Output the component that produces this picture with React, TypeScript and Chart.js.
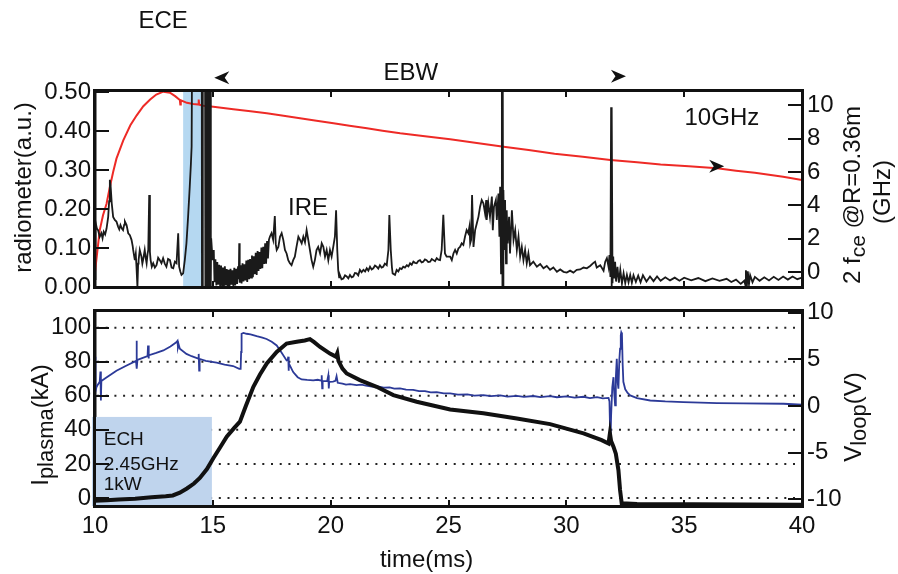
import React, { useEffect, useRef } from "react";
import { Chart, registerables } from "chart.js";

Chart.register(...registerables);

const FONT = "'Liberation Sans', Arial, Helvetica, sans-serif";
const INK = "#111111";

const TIME_TICKS = [10, 15, 20, 25, 30, 35, 40];
const RADIOMETER_TICKS = [0, 0.1, 0.2, 0.3, 0.4, 0.5];
const FCE_TICKS = [0, 2, 4, 6, 8, 10];
const IPLASMA_TICKS = [0, 20, 40, 60, 80, 100];
const VLOOP_TICKS = [-10, -5, 0, 5, 10];

const T_RANGE = [10, 40];
const RAD_RANGE = [0, 0.503];
const FCE_RANGE = [-0.9, 10.86];
const IP_RANGE = [-4.7, 109.8];
const VL_RANGE = [-10.72, 10.2];

const radiometer: [number, number][] = [
  [10.0, 0.02], [10.01, 0.16], [10.03, 0.167], [10.08, 0.15], [10.13, 0.146], [10.2, 0.129], [10.27, 0.138],
  [10.32, 0.125], [10.37, 0.142], [10.43, 0.135], [10.49, 0.15], [10.56, 0.18], [10.6, 0.22], [10.63, 0.275],
  [10.66, 0.262], [10.71, 0.215], [10.77, 0.18], [10.84, 0.172], [10.91, 0.168], [10.98, 0.155], [11.03, 0.148],
  [11.08, 0.159], [11.14, 0.15], [11.19, 0.146], [11.24, 0.16], [11.27, 0.168], [11.34, 0.159], [11.41, 0.138],
  [11.48, 0.133], [11.55, 0.121], [11.6, 0.105], [11.62, 0.095], [11.66, 0.08], [11.69, 0.069], [11.73, 0.085],
  [11.76, 0.052], [11.8, 0.0], [11.83, 0.06], [11.85, 0.069], [11.9, 0.095], [11.97, 0.078], [12.01, 0.06],
  [12.04, 0.069], [12.11, 0.095], [12.15, 0.075], [12.19, 0.061], [12.23, 0.085], [12.26, 0.095], [12.3, 0.236],
  [12.33, 0.09], [12.36, 0.069], [12.41, 0.052], [12.47, 0.061], [12.54, 0.05], [12.61, 0.056], [12.68, 0.075],
  [12.75, 0.069], [12.82, 0.061], [12.89, 0.074], [12.96, 0.06], [13.03, 0.052], [13.1, 0.072], [13.18, 0.069],
  [13.25, 0.05], [13.32, 0.048], [13.39, 0.065], [13.46, 0.061], [13.53, 0.138], [13.57, 0.052], [13.62, 0.04],
  [13.67, 0.031], [13.74, 0.035], [13.81, 0.069], [13.88, 0.112], [13.95, 0.18], [14.02, 0.257], [14.07, 0.317],
  [14.1, 0.36], [14.12, 0.6], [14.53, 0.6], [14.54, -0.05], [14.56, 0.6], [14.57, -0.05], [14.58, 0.6],
  [14.67, 0.6], [14.68, -0.05], [14.69, 0.6], [14.72, 0.6], [14.73, -0.05], [14.75, 0.6], [14.77, -0.05],
  [14.79, 0.6], [14.81, -0.05], [14.83, 0.6], [14.85, -0.05], [14.87, 0.6], [14.89, -0.05], [14.91, 0.6],
  [14.92, 0.02], [14.93, 0.125], [14.99, 0.069],
  [15.04, 0.095], [15.07, 0.012], [15.11, 0.071], [15.15, 0.004], [15.19, 0.064], [15.23, 0.006], [15.27, 0.057],
  [15.31, 0.002], [15.35, 0.055], [15.39, 0.005], [15.43, 0.05], [15.47, 0.001], [15.51, 0.053], [15.55, 0.004],
  [15.59, 0.046], [15.63, 0.003], [15.67, 0.044], [15.71, 0.002], [15.75, 0.047], [15.79, 0.006], [15.83, 0.043],
  [15.87, 0.003], [15.91, 0.049], [15.95, 0.004], [15.99, 0.047], [16.03, 0.008], [16.07, 0.053], [16.1, 0.02],
  [16.12, 0.112], [16.14, 0.011], [16.18, 0.056], [16.22, 0.009], [16.26, 0.061], [16.3, 0.014], [16.34, 0.058],
  [16.38, 0.017], [16.42, 0.068], [16.46, 0.013], [16.5, 0.07], [16.54, 0.02], [16.58, 0.072], [16.62, 0.024],
  [16.66, 0.081], [16.7, 0.025], [16.74, 0.079], [16.78, 0.033], [16.82, 0.088], [16.86, 0.031], [16.9, 0.092],
  [16.94, 0.041], [16.98, 0.09], [17.02, 0.046], [17.06, 0.101], [17.1, 0.048], [17.14, 0.103], [17.18, 0.059],
  [17.22, 0.112], [17.26, 0.06], [17.3, 0.118], [17.34, 0.073], [17.38, 0.121],
  [17.42, 0.129], [17.49, 0.138], [17.56, 0.121], [17.63, 0.182], [17.67, 0.11], [17.71, 0.095], [17.78, 0.103],
  [17.85, 0.129], [17.92, 0.138], [17.99, 0.121], [18.06, 0.095], [18.13, 0.086], [18.2, 0.069], [18.27, 0.061],
  [18.34, 0.056], [18.41, 0.069], [18.48, 0.078], [18.55, 0.103], [18.63, 0.129], [18.7, 0.121], [18.77, 0.112],
  [18.84, 0.129], [18.91, 0.115], [18.98, 0.146], [19.05, 0.121], [19.12, 0.095], [19.19, 0.069], [19.26, 0.052],
  [19.33, 0.069], [19.4, 0.095], [19.47, 0.103], [19.55, 0.086], [19.62, 0.112], [19.69, 0.103], [19.76, 0.078],
  [19.83, 0.095], [19.9, 0.069], [19.97, 0.095], [20.04, 0.078], [20.11, 0.103], [20.18, 0.129], [20.23, 0.197],
  [20.28, 0.095], [20.32, 0.044], [20.36, 0.025], [20.39, 0.031], [20.46, 0.02], [20.54, 0.022], [20.61, 0.03],
  [20.68, 0.027], [20.75, 0.022], [20.82, 0.031], [20.89, 0.025], [20.96, 0.027], [21.03, 0.036], [21.1, 0.035],
  [21.17, 0.03], [21.24, 0.044], [21.31, 0.038], [21.39, 0.044], [21.46, 0.04], [21.53, 0.048], [21.6, 0.042],
  [21.67, 0.052], [21.74, 0.045], [21.81, 0.048], [21.88, 0.055], [21.95, 0.052], [22.02, 0.047], [22.09, 0.056],
  [22.16, 0.05], [22.23, 0.052], [22.3, 0.06], [22.38, 0.056], [22.45, 0.095], [22.49, 0.185], [22.55, 0.095],
  [22.6, 0.05], [22.63, 0.035], [22.73, 0.031], [22.8, 0.044], [22.87, 0.04], [22.94, 0.048], [23.01, 0.046],
  [23.08, 0.052], [23.15, 0.05], [23.23, 0.056], [23.3, 0.053], [23.37, 0.061], [23.44, 0.057], [23.51, 0.065],
  [23.58, 0.062], [23.65, 0.061], [23.72, 0.067], [23.79, 0.069], [23.86, 0.063], [23.93, 0.065], [24.0, 0.071],
  [24.07, 0.069], [24.14, 0.064], [24.22, 0.065], [24.29, 0.072], [24.36, 0.069], [24.43, 0.066], [24.5, 0.074],
  [24.57, 0.07], [24.64, 0.069], [24.71, 0.095], [24.78, 0.185], [24.85, 0.086], [24.92, 0.078],
  [25.07, 0.078], [25.14, 0.069], [25.21, 0.086], [25.28, 0.095], [25.35, 0.086], [25.42, 0.099], [25.49, 0.103],
  [25.56, 0.112], [25.63, 0.108], [25.7, 0.129], [25.77, 0.146], [25.84, 0.138], [25.89, 0.155], [25.92, 0.112],
  [25.96, 0.121], [26.0, 0.236], [26.06, 0.103], [26.13, 0.146], [26.2, 0.163], [26.27, 0.18], [26.34, 0.206],
  [26.41, 0.223], [26.48, 0.215], [26.55, 0.189], [26.6, 0.223], [26.62, 0.172], [26.69, 0.215], [26.76, 0.18],
  [26.84, 0.232], [26.88, 0.146], [26.93, 0.206], [27.01, 0.223], [27.05, 0.172], [27.12, 0.24], [27.16, 0.129],
  [27.19, 0.257], [27.23, 0.035], [27.26, 0.24], [27.27, 0.6], [27.29, -0.02], [27.3, 0.6], [27.32, -0.02],
  [27.33, 0.249], [27.37, 0.095], [27.4, 0.223], [27.44, 0.061], [27.47, 0.197], [27.51, 0.112], [27.57, 0.18],
  [27.61, 0.086], [27.69, 0.197], [27.76, 0.121], [27.83, 0.146], [27.9, 0.095], [27.97, 0.129], [28.04, 0.078],
  [28.11, 0.103], [28.18, 0.069], [28.25, 0.095], [28.32, 0.061], [28.39, 0.086], [28.46, 0.056], [28.6, 0.065],
  [28.75, 0.052], [28.89, 0.059], [29.03, 0.048], [29.17, 0.054], [29.31, 0.044], [29.45, 0.05], [29.6, 0.039],
  [29.74, 0.045], [29.88, 0.039], [30.02, 0.037], [30.16, 0.042], [30.3, 0.037], [30.44, 0.044], [30.59, 0.045],
  [30.73, 0.05], [30.87, 0.048], [31.01, 0.054], [31.15, 0.062], [31.22, 0.065], [31.29, 0.05], [31.44, 0.056],
  [31.58, 0.042], [31.65, 0.065], [31.72, 0.074], [31.79, 0.052], [31.83, 0.082], [31.87, 0.026], [31.9, 0.461],
  [31.92, 0.0], [31.93, 0.455], [31.96, 0.01], [31.99, 0.078], [32.03, 0.022], [32.07, 0.065], [32.11, 0.014],
  [32.17, 0.052], [32.23, 0.011], [32.29, 0.044], [32.36, 0.009], [32.43, 0.035], [32.5, 0.01], [32.57, 0.031],
  [32.64, 0.012], [32.71, 0.031], [32.78, 0.011], [32.85, 0.03],
  [32.95, 0.013], [33.05, 0.029], [33.15, 0.012], [33.25, 0.03], [33.4, 0.014], [33.55, 0.027], [33.7, 0.015],
  [33.85, 0.027], [34.0, 0.016], [34.2, 0.025], [34.4, 0.017], [34.6, 0.024], [34.8, 0.016], [35.0, 0.024],
  [35.3, 0.017], [35.6, 0.023], [35.9, 0.015], [36.2, 0.022], [36.5, 0.016], [36.8, 0.021], [37.0, 0.013],
  [37.2, 0.019], [37.4, 0.008], [37.55, 0.016], [37.6, 0.004], [37.62, 0.043], [37.66, 0.001], [37.7, 0.04],
  [37.75, 0.007], [37.8, 0.03], [37.9, 0.012], [38.0, 0.026], [38.2, 0.016], [38.4, 0.025], [38.6, 0.017],
  [38.8, 0.026], [39.0, 0.018], [39.2, 0.027], [39.4, 0.019], [39.6, 0.027], [39.8, 0.02], [40.0, 0.024],
];

const fce: [number, number][] = [
  [10.0, 0.0], [10.2, 2.5], [10.34, 3.4], [10.49, 4.1], [10.63, 5.1], [10.77, 6.0], [10.91, 6.8], [11.2, 7.9],
  [11.5, 8.8], [11.77, 9.4], [12.05, 9.95], [12.34, 10.35], [12.6, 10.65], [12.9, 10.82], [13.18, 10.76],
  [13.4, 10.55], [13.6, 10.32], [13.62, 10.05], [13.64, 10.3], [13.9, 10.15], [14.17, 10.08], [14.38, 10.05],
  [14.4, 10.35], [14.42, 10.04], [14.6, 9.98], [15.02, 9.92], [15.87, 9.76], [16.6, 9.64], [17.29, 9.52],
  [18.0, 9.38], [18.7, 9.22], [19.4, 9.08], [20.12, 8.92], [20.8, 8.78], [21.54, 8.62], [22.2, 8.48], [22.95, 8.32],
  [24.0, 8.14], [25.07, 7.96], [26.2, 7.74], [27.34, 7.52], [28.4, 7.32], [29.5, 7.1], [30.7, 6.92], [31.87, 6.72],
  [33.0, 6.58], [34.0, 6.45], [35.2, 6.34], [36.4, 6.22], [37.2, 6.08], [38.0, 5.95], [38.6, 5.84], [39.2, 5.72],
  [40.0, 5.52],
];

const vloop: [number, number][] = [
  [10.0, 5.3], [10.02, 1.6], [10.06, 2.0], [10.12, 2.3], [10.2, 2.6], [10.23, 3.7], [10.25, 0.6], [10.27, 2.7],
  [10.5, 3.1], [10.91, 3.8], [11.3, 4.3], [11.74, 4.85], [11.76, 7.0], [11.78, 4.0], [11.8, 4.95], [12.0, 5.15],
  [12.23, 5.35], [12.25, 6.5], [12.27, 5.1], [12.29, 5.45], [12.6, 5.7], [12.9, 5.97], [13.2, 6.4], [13.45, 6.85],
  [13.5, 7.0], [13.52, 6.3], [13.55, 6.6], [13.6, 6.15], [13.88, 5.6], [14.1, 5.35], [14.38, 5.1], [14.4, 5.6],
  [14.42, 3.8], [14.44, 5.05], [14.7, 4.85], [15.16, 4.65], [15.5, 4.45], [15.86, 4.3], [16.12, 4.0], [16.18, 4.0],
  [16.2, 5.8], [16.22, 7.76], [16.3, 7.85], [16.43, 7.76], [16.6, 7.7], [16.86, 7.5], [17.1, 7.35], [17.28, 7.2],
  [17.5, 6.9], [17.71, 6.5], [17.9, 5.8], [18.13, 4.9], [18.18, 4.95], [18.2, 5.3], [18.21, 3.8], [18.23, 4.6],
  [18.41, 3.65], [18.6, 3.1], [18.77, 2.86], [19.0, 2.8], [19.26, 2.75], [19.45, 2.82], [19.6, 2.72], [19.62, 3.3],
  [19.64, 1.9], [19.66, 2.7], [19.85, 2.68], [19.9, 3.3], [19.92, 1.9], [19.94, 2.6], [20.1, 2.62], [20.2, 2.7],
  [20.25, 3.2], [20.3, 2.5], [20.5, 2.42], [20.65, 2.3], [20.82, 2.36], [21.1, 2.24], [21.3, 2.3], [21.5, 2.2],
  [21.75, 2.08], [22.0, 2.12], [22.25, 1.98], [22.5, 2.0], [22.7, 1.88], [22.94, 1.9], [23.2, 1.76], [23.5, 1.74],
  [23.75, 1.6], [24.0, 1.6], [24.25, 1.48], [24.5, 1.5], [24.8, 1.36], [25.07, 1.36], [25.4, 1.22], [25.8, 1.26],
  [26.1, 1.12], [26.48, 1.18], [26.8, 1.06], [27.2, 1.14], [27.5, 1.02], [27.9, 1.1], [28.2, 0.98], [28.6, 1.08],
  [28.9, 0.96], [29.31, 1.07], [29.6, 0.95], [30.0, 1.04], [30.35, 0.9], [30.73, 1.0], [31.0, 0.86], [31.3, 0.96],
  [31.55, 0.82], [31.79, 0.88], [31.83, 0.5], [31.87, -4.05], [31.9, -1.0], [31.95, 2.0], [32.0, 3.1], [32.03, 1.5],
  [32.07, 0.07], [32.1, 3.0], [32.14, 5.07], [32.18, 2.5], [32.21, 1.86], [32.25, 5.0], [32.28, 6.15], [32.31, 7.6],
  [32.33, 7.9], [32.36, 7.7], [32.39, 4.5], [32.42, 2.6], [32.5, 1.8], [32.6, 1.4], [32.71, 1.14], [33.0, 0.85],
  [33.56, 0.6], [34.2, 0.5], [34.97, 0.43], [35.7, 0.37], [36.39, 0.32], [37.5, 0.28], [39.22, 0.25], [40.0, 0.14],
];

const iplasma: [number, number][] = [
  [10.0, -1.6], [10.5, -1.3], [11.0, -0.9], [11.7, -0.5], [12.4, 0.4], [13.0, 1.0], [13.3, 1.5], [13.6, 3.1],
  [13.9, 5.6], [14.2, 8.5], [14.45, 11.8], [14.75, 17], [15.02, 23.3], [15.3, 29.5], [15.59, 36], [15.9, 41],
  [16.15, 44.8], [16.4, 54], [16.72, 65.3], [17.0, 72.5], [17.29, 79], [17.71, 85.8], [18.13, 90.7], [18.56, 91.7],
  [18.9, 92.5], [19.12, 93.3], [19.3, 91.5], [19.55, 88.7], [19.97, 84.8], [20.22, 83], [20.28, 85], [20.33, 80.5],
  [20.5, 76], [20.68, 73.1], [21.24, 69.2], [21.95, 65.3], [22.66, 60.4], [23.65, 56.5], [25.07, 52], [26.48, 49.7],
  [27.9, 46.7], [29.31, 43.4], [30.73, 38], [31.5, 34], [31.79, 32], [31.85, 38], [31.9, 33.5], [32.0, 30.1],
  [32.1, 26], [32.21, 16.4], [32.28, 4.7], [32.35, -3.1], [33.0, -3.5], [40.0, -4.0],
];

const ECE_BAND = [13.74, 14.56];
const ECH_BOX = { t0: 9.87, t1: 14.96, top: 47.6 };
const ECH_LINES = [
  { text: "ECH", v: 31.1 },
  { text: "2.45GHz", v: 16.4 },
  { text: "1kW", v: 4.7 },
];
const ECH_TEXT_T = 10.37;
const TOP_LABELS = [
  { text: "ECE", t: 12.89, v: 0.681 },
  { text: "EBW", t: 23.4, v: 0.547 },
  { text: "IRE", t: 19.04, v: 0.202 },
  { text: "10GHz", t: 36.6, v: 0.433 },
];
const ARROWS = [
  { t: 15.06, v: 0.537, dir: -1 },
  { t: 32.53, v: 0.541, dir: 1 },
  { t: 36.7, v: 0.31, dir: 1 },
];
const TIME_TITLE_T = 24.07;

const toXY = (arr: [number, number][]) => arr.map(([x, y]) => ({ x, y }));

type Part = { t: string; sub?: boolean };

function drawRotated(ctx: CanvasRenderingContext2D, baseX: number, cy: number, parts: Part[], size = 24, subSize = 21, subShift = 5) {
  ctx.save();
  ctx.translate(baseX, cy);
  ctx.rotate(-Math.PI / 2);
  ctx.textBaseline = "alphabetic";
  ctx.textAlign = "left";
  ctx.fillStyle = "#111";
  let total = 0;
  const widths: number[] = [];
  for (const p of parts) {
    ctx.font = `${p.sub ? subSize : size}px ${FONT}`;
    const w = ctx.measureText(p.t).width;
    widths.push(w);
    total += w;
  }
  let x = -total / 2;
  parts.forEach((p, i) => {
    ctx.font = `${p.sub ? subSize : size}px ${FONT}`;
    ctx.fillText(p.t, x, p.sub ? subShift : 0);
    x += widths[i];
  });
  ctx.restore();
}

function drawArrow(ctx: CanvasRenderingContext2D, x: number, y: number, dir: number) {
  const len = 15, hw = 6.5, notch = 4.5;
  ctx.beginPath();
  ctx.moveTo(x, y);
  ctx.lineTo(x - dir * len, y - hw);
  ctx.lineTo(x - dir * (len - notch), y);
  ctx.lineTo(x - dir * len, y + hw);
  ctx.closePath();
  ctx.fill();
}

// axes box with inward tick marks (MATLAB style), drawn as filled polygons
function drawBox(chart: any, leftTicks: number[], rightTicks: number[]) {
  const ctx: CanvasRenderingContext2D = chart.ctx;
  const a = chart.chartArea;
  const sx = chart.scales.x;
  const sl = chart.scales.yL;
  const sr = chart.scales.yR;
  const L = Math.round(a.left), R = Math.round(a.right), T = Math.round(a.top), B = Math.round(a.bottom);
  ctx.save();
  ctx.fillStyle = INK;
  ctx.beginPath();
  const tw = 2;
  for (const v of TIME_TICKS) {
    const x = Math.round(sx.getPixelForValue(v));
    ctx.rect(x - 1, T, tw, 6);
    ctx.rect(x - 1, B - 6, tw, 6);
  }
  for (const v of leftTicks) {
    const y = Math.round(sl.getPixelForValue(v));
    ctx.rect(L, y - 1, 14, tw);
  }
  for (const v of rightTicks) {
    const y = Math.round(sr.getPixelForValue(v));
    ctx.rect(R - 14, y - 1, 14, tw);
  }
  // frame: 3px wide, centred on the plot-area edges
  ctx.rect(L - 2, T - 2, R - L + 4, 3);
  ctx.rect(L - 2, B - 1, R - L + 4, 3);
  ctx.rect(L - 2, T - 2, 3, B - T + 4);
  ctx.rect(R - 1, T - 2, 3, B - T + 4);
  ctx.fill();
  ctx.restore();
}

function noPad(s: any) {
  s.paddingTop = 0;
  s.paddingBottom = 0;
  s.paddingLeft = 0;
  s.paddingRight = 0;
}

function yAxis(pos: "left" | "right", range: number[], ticks: number[], fmt: (v: number) => string, width: number) {
  return {
    type: "linear",
    position: pos,
    min: range[0],
    max: range[1],
    afterBuildTicks: (s: any) => {
      s.ticks = ticks.map((v) => ({ value: v }));
    },
    afterFit: (s: any) => {
      s.width = width;
      noPad(s);
    },
    grid: { display: false, drawTicks: false },
    border: { display: true, color: INK, width: 2.5 },
    ticks: {
      font: { family: FONT, size: 24 },
      color: "#111",
      padding: pos === "left" ? 4 : 5,
      callback: (v: any) => fmt(Number(v)),
    },
  };
}

function xAxis(showLabels: boolean, height: number) {
  return {
    type: "linear",
    min: T_RANGE[0],
    max: T_RANGE[1],
    afterBuildTicks: (s: any) => {
      s.ticks = TIME_TICKS.map((v) => ({ value: v }));
    },
    afterFit: (s: any) => {
      s.height = height;
      noPad(s);
    },
    grid: { display: false, drawTicks: false },
    border: { display: true, color: INK, width: 2.5 },
    ticks: {
      display: showLabels,
      font: { family: FONT, size: 24 },
      color: "#111",
      padding: 6,
      maxRotation: 0,
      autoSkip: false,
      callback: (v: any) => String(v),
    },
  };
}

const topPlugin = {
  id: "topDecor",
  beforeDatasetsDraw(chart: any) {
    const { ctx, chartArea: a, scales } = chart;
    ctx.save();
    ctx.fillStyle = "#b5d8f1";
    const x0 = scales.x.getPixelForValue(ECE_BAND[0]);
    const x1 = scales.x.getPixelForValue(ECE_BAND[1]);
    ctx.fillRect(x0, a.top + 1, x1 - x0, a.bottom - a.top - 2);
    ctx.restore();
  },
  afterDraw(chart: any) {
    const { ctx, chartArea: a, scales } = chart;
    drawBox(chart, RADIOMETER_TICKS, FCE_TICKS);
    ctx.save();
    ctx.fillStyle = "#111";
    ctx.font = `24px ${FONT}`;
    ctx.textAlign = "center";
    ctx.textBaseline = "middle";
    for (const l of TOP_LABELS) {
      ctx.fillText(l.text, scales.x.getPixelForValue(l.t), scales.yL.getPixelForValue(l.v));
    }
    for (const ar of ARROWS) {
      drawArrow(ctx, scales.x.getPixelForValue(ar.t), scales.yL.getPixelForValue(ar.v), ar.dir);
    }
    ctx.restore();
    drawRotated(ctx, a.left - 64, (a.top + a.bottom) / 2 - 1.5, [{ t: "radiometer(a.u.)" }]);
    drawRotated(ctx, a.right + 58, (a.top + a.bottom) / 2 + 6, [
      { t: "2 f" },
      { t: "ce", sub: true },
      { t: " @R=0.36m" },
    ]);
    drawRotated(ctx, a.right + 88, (a.top + a.bottom) / 2 + 3, [{ t: "(GHz)" }]);
  },
};

const bottomPlugin = {
  id: "bottomDecor",
  beforeDatasetsDraw(chart: any) {
    const { ctx, chartArea: a, scales } = chart;
    ctx.save();
    ctx.strokeStyle = "#222";
    ctx.lineWidth = 2;
    ctx.setLineDash([2, 6.7]);
    for (const v of IPLASMA_TICKS) {
      const y = scales.yL.getPixelForValue(v);
      ctx.beginPath();
      ctx.moveTo(a.left + 2, y);
      ctx.lineTo(a.right, y);
      ctx.stroke();
    }
    ctx.setLineDash([]);
    ctx.fillStyle = "#bfd4ed";
    const x0 = scales.x.getPixelForValue(ECH_BOX.t0);
    const x1 = scales.x.getPixelForValue(ECH_BOX.t1);
    const y0 = scales.yL.getPixelForValue(ECH_BOX.top);
    ctx.fillRect(x0, y0, x1 - x0, a.bottom - y0);
    ctx.restore();
  },
  afterDraw(chart: any) {
    const { ctx, chartArea: a, scales } = chart;
    drawBox(chart, IPLASMA_TICKS, VLOOP_TICKS);
    ctx.save();
    ctx.fillStyle = "#111";
    ctx.font = `19px ${FONT}`;
    ctx.textAlign = "left";
    ctx.textBaseline = "alphabetic";
    const tx = scales.x.getPixelForValue(ECH_TEXT_T);
    for (const l of ECH_LINES) {
      ctx.fillText(l.text, tx, scales.yL.getPixelForValue(l.v));
    }
    ctx.font = `24px ${FONT}`;
    ctx.textAlign = "center";
    ctx.fillText("time(ms)", scales.x.getPixelForValue(TIME_TITLE_T), a.bottom + 61);
    ctx.restore();
    drawRotated(ctx, a.left - 47, 125, [{ t: "I" }, { t: "plasma", sub: true }, { t: "(kA)" }], 24, 22, 5);
    drawRotated(ctx, a.right + 59, 117, [{ t: "V" }, { t: "loop", sub: true }, { t: "(V)" }], 24, 22, 5);
  },
};

export default function App() {
  const topRef = useRef<HTMLCanvasElement>(null);
  const botRef = useRef<HTMLCanvasElement>(null);

  useEffect(() => {
    const top = new Chart(topRef.current as HTMLCanvasElement, {
      type: "line",
      data: {
        datasets: [
          {
            data: toXY(radiometer),
            yAxisID: "yL",
            borderColor: "#1a1a1a",
            borderWidth: 1.8,
            pointRadius: 0,
            tension: 0,
          },
          {
            data: toXY(fce),
            yAxisID: "yR",
            borderColor: "#ee2a26",
            borderWidth: 2,
            pointRadius: 0,
            tension: 0,
          },
        ],
      },
      options: {
        animation: false,
        responsive: false,
        devicePixelRatio: 1,
        events: [],
        parsing: false,
        layout: { padding: { top: 91, left: 0, right: 0, bottom: 0 } },
        plugins: { legend: { display: false }, tooltip: { enabled: false } },
        scales: {
          x: xAxis(false, 13),
          yL: yAxis("left", RAD_RANGE, RADIOMETER_TICKS, (v) => v.toFixed(2), 95),
          yR: yAxis("right", FCE_RANGE, FCE_TICKS, (v) => String(v), 96),
        },
      } as any,
      plugins: [topPlugin],
    });

    const bot = new Chart(botRef.current as HTMLCanvasElement, {
      type: "line",
      data: {
        datasets: [
          {
            data: toXY(iplasma),
            yAxisID: "yL",
            borderColor: "#111",
            borderWidth: 4,
            pointRadius: 0,
            tension: 0,
          },
          {
            data: toXY(vloop),
            yAxisID: "yR",
            borderColor: "#2c3a98",
            borderWidth: 1.8,
            pointRadius: 0,
            tension: 0,
          },
        ],
      },
      options: {
        animation: false,
        responsive: false,
        devicePixelRatio: 1,
        events: [],
        parsing: false,
        layout: { padding: { top: 11, left: 0, right: 0, bottom: 0 } },
        plugins: { legend: { display: false }, tooltip: { enabled: false } },
        scales: {
          x: xAxis(true, 68),
          yL: yAxis("left", IP_RANGE, IPLASMA_TICKS, (v) => String(v), 95),
          yR: yAxis("right", VL_RANGE, VLOOP_TICKS, (v) => String(v), 96),
        },
      } as any,
      plugins: [bottomPlugin],
    });

    return () => {
      top.destroy();
      bot.destroy();
    };
  }, []);

  return (
    <div style={{ position: "absolute", left: 0, top: 0, width: 898, height: 574, background: "#fff" }}>
      <canvas ref={topRef} width={898} height={300} style={{ position: "absolute", left: 0, top: 0, width: 898, height: 300 }} />
      <canvas ref={botRef} width={898} height={274} style={{ position: "absolute", left: 0, top: 300, width: 898, height: 274 }} />
    </div>
  );
}
